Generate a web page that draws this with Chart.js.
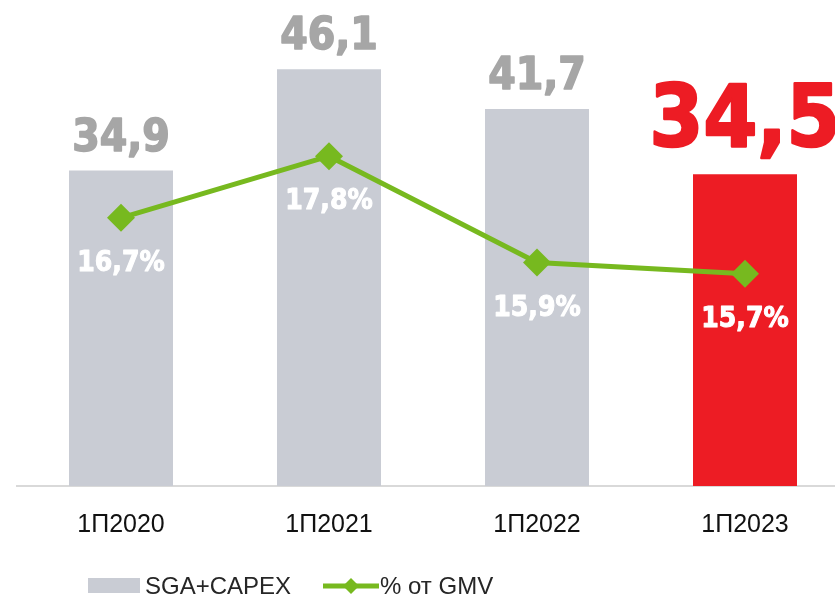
<!DOCTYPE html>
<html>
<head>
<meta charset="utf-8">
<script src="https://cdn.jsdelivr.net/npm/chart.js@4.4.1/dist/chart.umd.min.js"></script>
<style>
  html, body { margin: 0; padding: 0; background: #fff; overflow: hidden; }
  #wrap { position: relative; width: 835px; height: 596px; overflow: hidden; }
  #chart { position: absolute; left: 0; top: 0; }
  .lg-box { position: absolute; left: 88px; top: 578px; width: 52px; height: 15px; background: #C9CCD4; }
  .lg-text { position: absolute; top: 574px; font: 24px/24px "Liberation Sans", Arial, sans-serif; color: #262626; white-space: nowrap; }
  .lg-line { position: absolute; left: 323px; top: 577px; }
</style>
</head>
<body>
<div id="wrap">
  <canvas id="chart" width="852" height="596"></canvas>
  <div class="lg-box"></div>
  <div class="lg-text" id="lg1" style="left:145px"></div>
  <svg class="lg-line" width="56" height="18" viewBox="0 0 56 18">
    <line x1="0" y1="9" x2="56" y2="9" stroke="#77B91F" stroke-width="5"/>
    <polygon points="28,1 36,9 28,17 20,9" fill="#77B91F"/>
  </svg>
  <div class="lg-text" id="lg2" style="left:380px"></div>
</div>
<script>
// ======= DATA =======
const periods = ['1П2020', '1П2021', '1П2022', '1П2023'];
const spend = [34.9, 46.1, 41.7, 34.5];      // SGA+CAPEX
const shareGmv = [16.7, 17.8, 15.9, 15.7];   // % от GMV

const GRAY = '#C9CCD4';
const RED = '#ED1C24';
const GREEN = '#77B91F';
const BOLD_FONT = '"DejaVu Sans Condensed", "DejaVu Sans", sans-serif';

const fmt = v => v.toFixed(1).replace('.', ',');

// draw text a little heavier (fill + thin stroke of the same colour)
function heavyText(ctx, text, x, y, color, width) {
  ctx.fillStyle = color;
  ctx.strokeStyle = color;
  ctx.lineWidth = width;
  ctx.lineJoin = 'round';
  ctx.strokeText(text, x, y);
  ctx.fillText(text, x, y);
}

// ======= VALUE LABELS =======
const valueLabels = {
  id: 'valueLabels',
  afterDatasetsDraw(chart) {
    const ctx = chart.ctx;
    const bars = chart.getDatasetMeta(1).data;
    const points = chart.getDatasetMeta(0).data;
    ctx.save();
    ctx.textAlign = 'center';
    ctx.textBaseline = 'alphabetic';

    bars.forEach((bar, i) => {
      const last = i === spend.length - 1;
      ctx.font = 'bold ' + (last ? 86 : 44) + 'px ' + BOLD_FONT;
      heavyText(ctx, fmt(spend[i]), bar.x, bar.y - (last ? 28 : 20),
        last ? RED : '#A6A6A6', last ? 2.5 : 1.5);
    });

    points.forEach((pt, i) => {
      ctx.font = 'bold 28px ' + BOLD_FONT;
      heavyText(ctx, fmt(shareGmv[i]) + '%', pt.x, pt.y + 53, '#fff', 1);
    });
    ctx.restore();
  }
};

// ======= CHART =======
const ctx = document.getElementById('chart').getContext('2d');
const chart = new Chart(ctx, {
  data: {
    labels: periods,
    datasets: [
      {
        type: 'line',
        label: '% от GMV',
        data: shareGmv,
        yAxisID: 'y2',
        borderColor: GREEN,
        borderWidth: 5,
        pointStyle: 'rectRot',
        pointRadius: 14,
        pointBackgroundColor: GREEN,
        pointBorderWidth: 0,
        tension: 0,
        order: 1
      },
      {
        type: 'bar',
        label: 'SGA+CAPEX',
        data: spend,
        yAxisID: 'y',
        backgroundColor: spend.map((v, i) => i === spend.length - 1 ? RED : GRAY),
        categoryPercentage: 1,
        barPercentage: 0.5,
        order: 2
      }
    ]
  },
  options: {
    responsive: false,
    devicePixelRatio: 1,
    animation: false,
    layout: { autoPadding: false, padding: { left: 17, right: 3, top: 0, bottom: 32 } },
    plugins: {
      legend: { display: false },
      tooltip: { enabled: false }
    },
    scales: {
      x: {
        offset: true,
        grid: { display: false, drawTicks: false },
        border: { display: true, color: '#D9D9D9', width: 2 },
        ticks: {
          padding: 24,
          color: '#111',
          font: { family: '"Liberation Sans", Arial, sans-serif', size: 25 }
        }
      },
      y: { display: false, min: 0, max: 53.77 },
      y2: { display: false, min: 11.91, max: 20.59 }
    }
  },
  plugins: [valueLabels]
});

// ======= LEGEND =======
document.getElementById('lg1').textContent = chart.data.datasets[1].label;
document.getElementById('lg2').textContent = chart.data.datasets[0].label;
</script>
</body>
</html>
